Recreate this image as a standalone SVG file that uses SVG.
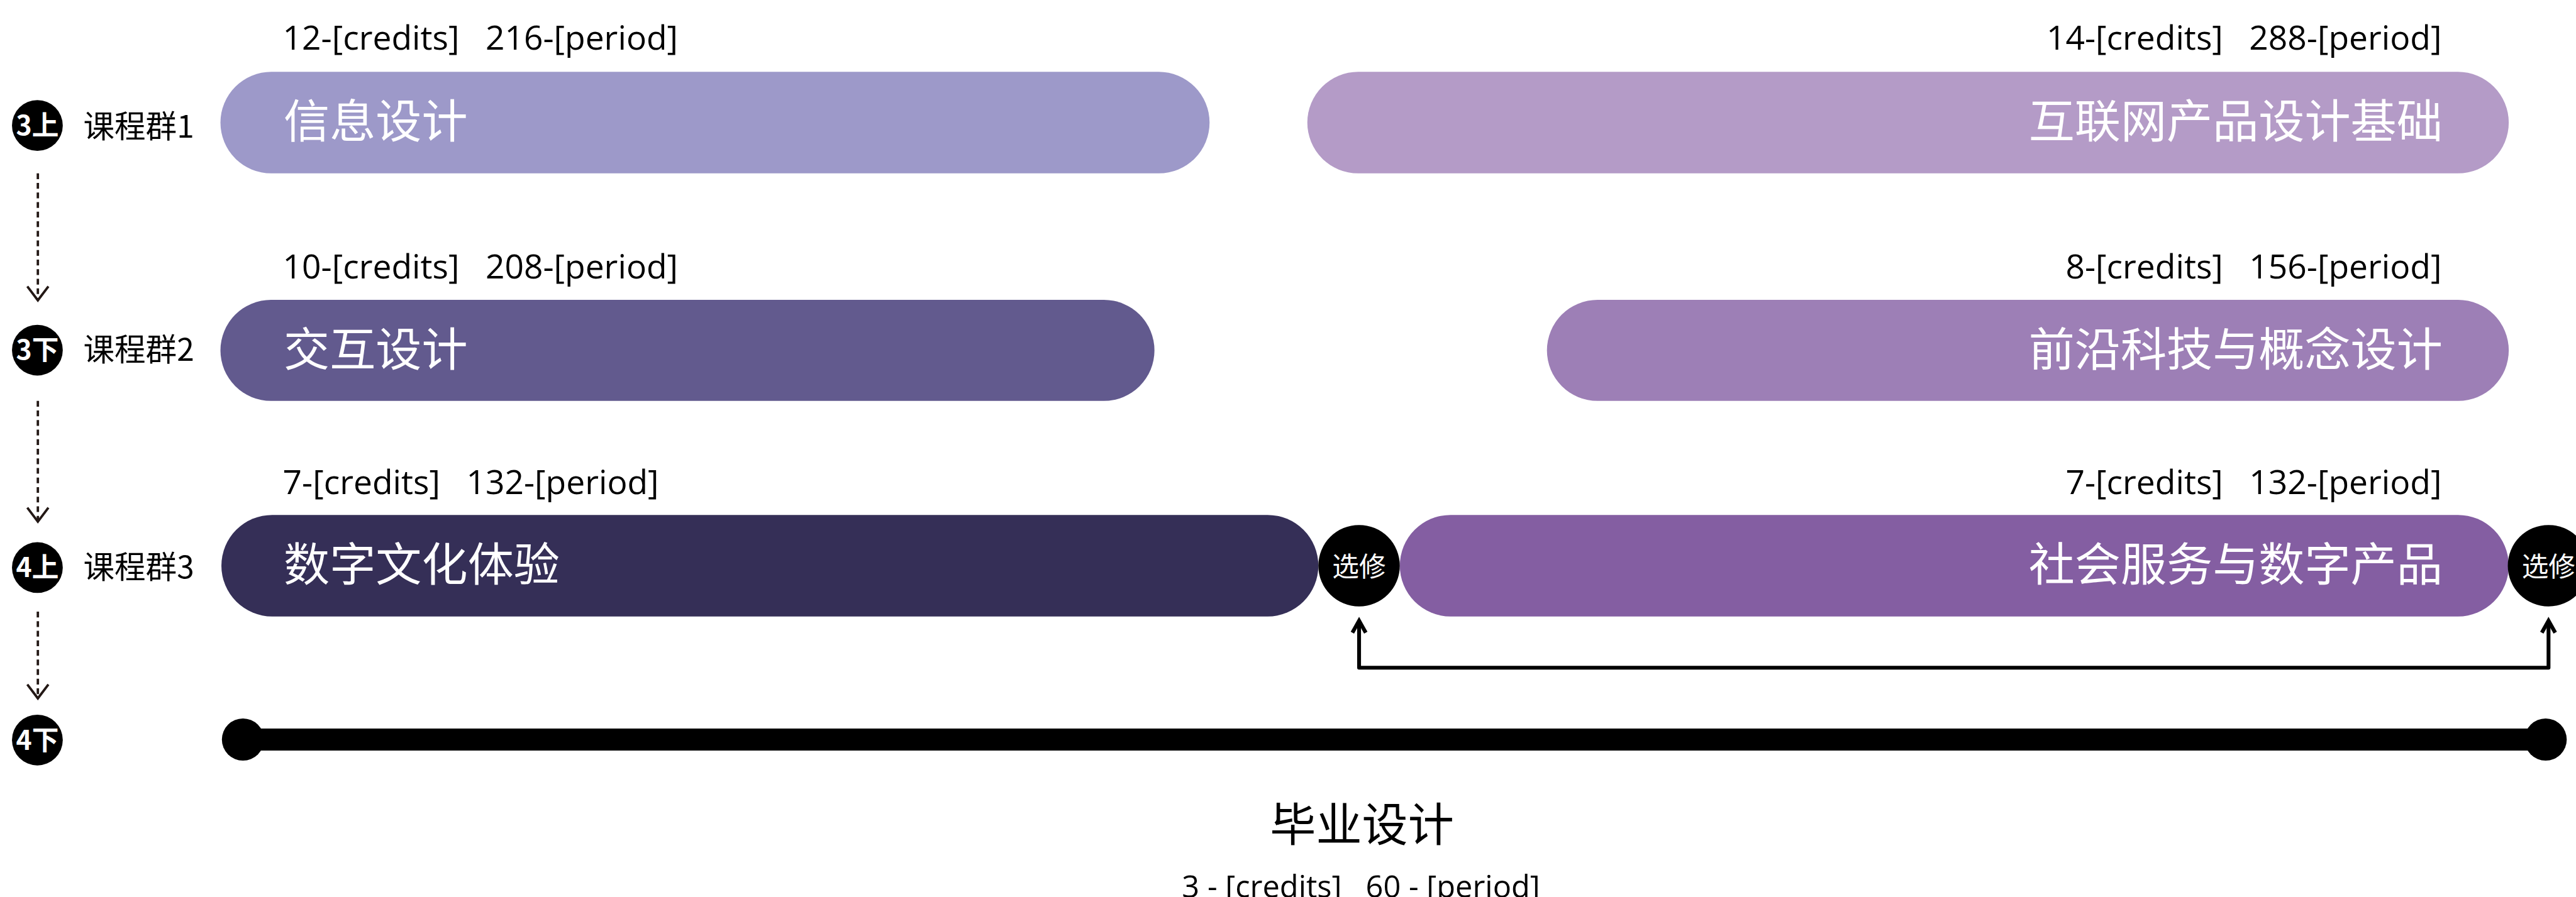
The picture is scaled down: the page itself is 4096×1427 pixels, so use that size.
<svg xmlns="http://www.w3.org/2000/svg" width="4096" height="1427" viewBox="0 0 4096 1427">
<style>
.cjk{font-family:"Noto Sans CJK SC","Noto Sans",sans-serif}
.lbl{font-size:96px;fill:#fff}
.cr{font-family:"Open Sans","Noto Sans",sans-serif;font-size:70px;fill:#000;white-space:pre}
.sem{font-size:56px;font-weight:bold;fill:#fff;text-anchor:middle}
.xx{font-size:56px;fill:#fff;text-anchor:middle}
.grp{font-size:65px;fill:#000}
.end{text-anchor:end}
.dash{stroke:#231815;stroke-width:5;stroke-dasharray:12 8;fill:none}
.conn{stroke:#000;stroke-width:8;fill:none;stroke-linejoin:round}
</style>
<defs>
<marker id="vopen" markerUnits="userSpaceOnUse" viewBox="-40 -30 50 60" refX="0" refY="0" markerWidth="50" markerHeight="60" orient="auto"><path d="M-29,-22 L0,0 L-29,22" fill="none" stroke="#231815" stroke-width="5"/></marker>
<marker id="chev" markerUnits="userSpaceOnUse" viewBox="-40 -30 60 60" refX="0" refY="0" markerWidth="60" markerHeight="60" orient="auto-start-reverse"><path d="M-25,-14 L0,0 L-25,14" fill="none" stroke="#000" stroke-width="8" stroke-linejoin="miter"/></marker>
</defs>
<rect x="0" y="0" width="4096" height="1427" fill="#fff"/>
<g transform="scale(0.762)">
<g id="connectors">
<path class="dash" d="M79,362 L79,627" marker-end="url(#vopen)"/>
<path class="dash" d="M79,837 L79,1089" marker-end="url(#vopen)"/>
<path class="dash" d="M79,1277 L79,1458" marker-end="url(#vopen)"/>
<path class="conn" d="M5318,1296 L5318,1394 L2836,1394 L2836,1296" marker-start="url(#chev)" marker-end="url(#chev)"/>
</g>
<g id="sem-3s"><circle cx="78" cy="262" r="53" fill="#000"/><text class="cjk sem" x="78" y="282">3上</text><text class="cjk grp" x="174" y="287">课程群1</text></g>
<g id="sem-3x"><circle cx="78" cy="731" r="53" fill="#000"/><text class="cjk sem" x="78" y="751">3下</text><text class="cjk grp" x="174" y="753">课程群2</text></g>
<g id="sem-4s"><circle cx="78" cy="1185" r="53" fill="#000"/><text class="cjk sem" x="78" y="1205">4上</text><text class="cjk grp" x="174" y="1207">课程群3</text></g>
<g id="sem-4x"><circle cx="78" cy="1545" r="53" fill="#000"/><text class="cjk sem" x="78" y="1565">4下</text></g>
<g id="node-xinxi"><rect x="460" y="150" width="2064" height="212" rx="106" fill="#9D99C9"/><text class="cr" xml:space="preserve" x="590" y="104">12-[credits]   216-[period]</text><text class="cjk lbl" x="592" y="288">信息设计</text></g>
<g id="node-hulianwang"><rect x="2728" y="150" width="2507" height="212" rx="106" fill="#B49BC7"/><text class="cr end" xml:space="preserve" x="5095" y="104">14-[credits]   288-[period]</text><text class="cjk lbl end" x="5097" y="288">互联网产品设计基础</text></g>
<g id="node-jiaohu"><rect x="460" y="626" width="1949" height="211" rx="105.5" fill="#625A8E"/><text class="cr" xml:space="preserve" x="590" y="582">10-[credits]   208-[period]</text><text class="cjk lbl" x="592" y="764">交互设计</text></g>
<g id="node-qianyan"><rect x="3228" y="626" width="2007" height="211" rx="105.5" fill="#9D7FB6"/><text class="cr end" xml:space="preserve" x="5095" y="582">8-[credits]   156-[period]</text><text class="cjk lbl end" x="5097" y="764">前沿科技与概念设计</text></g>
<g id="node-shuzi"><rect x="462" y="1075" width="2289" height="212" rx="106" fill="#352F57"/><text class="cr" xml:space="preserve" x="590" y="1032">7-[credits]   132-[period]</text><text class="cjk lbl" x="592" y="1213">数字文化体验</text></g>
<g id="node-xuanxiu1"><circle cx="2836" cy="1181" r="85" fill="#000"/><text class="cjk xx" x="2836" y="1203">选修</text></g>
<g id="node-shehui"><rect x="2921" y="1075" width="2314" height="212" rx="106" fill="#845EA2"/><text class="cr end" xml:space="preserve" x="5095" y="1032">7-[credits]   132-[period]</text><text class="cjk lbl end" x="5097" y="1213">社会服务与数字产品</text></g>
<g id="node-xuanxiu2"><circle cx="5318" cy="1181" r="85" fill="#000"/><text class="cjk xx" x="5318" y="1203">选修</text></g>
<g id="node-biye"><rect x="507" y="1521" width="4805" height="46" fill="#000"/><circle cx="507" cy="1544" r="44" fill="#000"/><circle cx="5312" cy="1544" r="44" fill="#000"/><text class="cjk" x="2842" y="1756" font-size="96" fill="#000" text-anchor="middle">毕业设计</text><text class="cr" xml:space="preserve" x="2840" y="1874" text-anchor="middle" style="font-size:64px">3 - [credits]   60 - [period]</text></g>
</g>
</svg>
